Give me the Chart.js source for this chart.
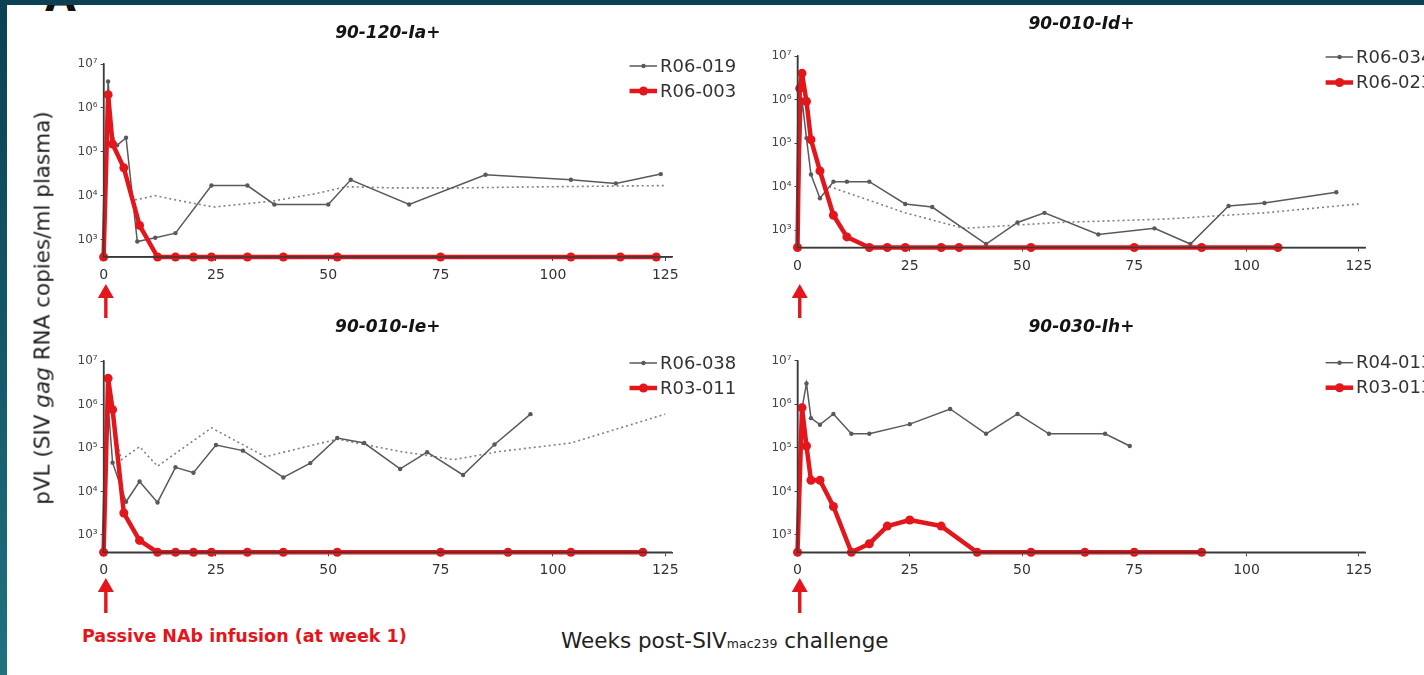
<!DOCTYPE html>
<html><head><meta charset="utf-8">
<script src="https://cdn.jsdelivr.net/npm/chart.js@4.4.1/dist/chart.umd.min.js"></script>
<style>
html,body{margin:0;padding:0;}
body{width:1424px;height:675px;overflow:hidden;position:relative;background:linear-gradient(180deg,#0b4152 0%,#145769 50%,#21717f 100%);font-family:'DejaVu Sans',sans-serif;}
#sheet{position:absolute;left:7px;top:5px;width:1417px;height:670px;background:#fff;overflow:hidden;}
canvas{position:absolute;}
.txt{position:absolute;white-space:nowrap;}
</style></head><body>
<div id="sheet"><div class="txt" style="left:38px;top:-28px;font:bold 40px/40px 'DejaVu Sans';color:#111;">A</div></div>
<canvas id="c0"></canvas><canvas id="c1"></canvas><canvas id="c2"></canvas><canvas id="c3"></canvas>
<div class="txt" id="ytitle" style="left:42px;top:308px;transform:translate(-50%,-50%) rotate(-90deg);font-size:21.5px;color:#222;">pVL (SIV <i>gag</i> RNA copies/ml plasma)</div>
<div class="txt" style="left:82px;top:636px;transform:translateY(-50%);font-weight:bold;font-size:17.5px;color:#e3161b;">Passive NAb infusion (at week 1)</div>
<div class="txt" style="left:561px;top:640px;transform:translateY(-50%);font-size:21.5px;color:#222;">Weeks post-SIV<span style="font-size:12.5px;">mac239</span> challenge</div>
<script>
// ---------- shared axis data ----------
const xTickValues = [0, 25, 50, 75, 100, 125];
const xTickLabels = ['0', '25', '50', '75', '100', '125'];
const yTickValues = [1e3, 1e4, 1e5, 1e6, 1e7];
const yTickLabels = ['10\u00b3', '10\u2074', '10\u2075', '10\u2076', '10\u2077'];
const panelTitles = ['90-120-Ia+', '90-010-Id+', '90-010-Ie+', '90-030-Ih+'];

// ---------- 90-120-Ia+ ----------
const iaCtrlName = 'R06-019';
const iaCtrlWeeks = [0, 1, 2, 3, 5, 7.5, 11.5, 16, 24, 32, 38, 50, 55, 68, 85, 104, 114, 124];
const iaCtrlVL = [400, 4e6, 2e5, 1.4e5, 2.1e5, 900, 1100, 1400, 1.7e4, 1.7e4, 6300, 6300, 2.3e4, 6300, 3e4, 2.3e4, 1.9e4, 3.1e4];
const iaNAbName = 'R06-003';
const iaNAbWeeks = [0, 1, 2, 4.5, 8, 12, 16, 20, 24, 32, 40, 52, 75, 104, 115, 123];
const iaNAbVL = [400, 2e6, 1.5e5, 4.3e4, 2100, 400, 400, 400, 400, 400, 400, 400, 400, 400, 400, 400];
const iaHistWeeks = [7, 11.5, 16, 24.5, 37.5, 47, 54, 65, 78, 100, 125];
const iaHistVL = [8000, 1e4, 8000, 5500, 7500, 1.1e4, 1.6e4, 1.5e4, 1.5e4, 1.6e4, 1.7e4];

// ---------- 90-010-Id+ ----------
const idCtrlName = 'R06-034';
const idCtrlWeeks = [0, 1, 2, 3, 5, 8, 11, 16, 24, 30, 42, 49, 55, 67, 79.5, 87.5, 96, 104, 120];
const idCtrlVL = [400, 1e6, 1.3e5, 1.9e4, 5400, 1.3e4, 1.3e4, 1.3e4, 4000, 3400, 480, 1500, 2500, 800, 1100, 480, 3600, 4200, 7400];
const idNAbName = 'R06-023';
const idNAbWeeks = [0, 0.5, 1, 2, 3, 5, 8, 11, 16, 20, 24, 32, 36, 52, 75, 90, 107];
const idNAbVL = [400, 1.8e6, 4e6, 9e5, 1.2e5, 2.3e4, 2200, 700, 400, 400, 400, 400, 400, 400, 400, 400, 400];
const idHistWeeks = [6, 24, 37, 58, 82, 104, 125];
const idHistVL = [1.1e4, 2500, 1100, 1500, 1800, 2500, 4000];

// ---------- 90-010-Ie+ ----------
const ieCtrlName = 'R06-038';
const ieCtrlWeeks = [0, 1, 2, 5, 8, 12, 16, 20, 25, 31, 40, 46, 52, 58, 66, 72, 80, 87, 95];
const ieCtrlVL = [400, 1e6, 4.6e4, 5800, 1.7e4, 5600, 3.6e4, 2.7e4, 1.17e5, 8.7e4, 2.1e4, 4.5e4, 1.7e5, 1.3e5, 3.3e4, 8e4, 2.4e4, 1.2e5, 6e5];
const ieNAbName = 'R03-011';
const ieNAbWeeks = [0, 1, 2, 4.5, 8, 12, 16, 20, 24, 32, 40, 52, 75, 90, 104, 120];
const ieNAbVL = [400, 4e6, 7.6e5, 3200, 750, 400, 400, 400, 400, 400, 400, 400, 400, 400, 400, 400];
const ieHistWeeks = [2.5, 4, 8, 12, 24, 36, 52, 66, 78, 88, 104, 125];
const ieHistVL = [2e5, 5.4e4, 1.07e5, 3.8e4, 2.9e5, 6.3e4, 1.6e5, 8.3e4, 5.4e4, 8.3e4, 1.3e5, 6e5];

// ---------- 90-030-Ih+ ----------
const ihCtrlName = 'R04-013';
const ihCtrlWeeks = [0, 1, 2, 3, 5, 8, 12, 16, 25, 34, 42, 49, 56, 68.5, 74];
const ihCtrlVL = [400, 8e5, 3e6, 4.8e5, 3.4e5, 6e5, 2.1e5, 2.1e5, 3.5e5, 7.8e5, 2.1e5, 6e5, 2.1e5, 2.1e5, 1.1e5];
const ihNAbName = 'R03-013';
const ihNAbWeeks = [0, 1, 2, 3, 5, 8, 12, 16, 20, 25, 32, 40, 52, 64, 75, 90];
const ihNAbVL = [400, 8.3e5, 1.1e5, 1.8e4, 1.8e4, 4500, 400, 630, 1600, 2200, 1600, 400, 400, 400, 400, 400];

const infusionWeek = 0.5;

// ---------- styles / layout (not data) ----------
const RED = '#e3161b', GRAY = '#595959', DOT = '#808080';
const FONT = "'DejaVu Sans', sans-serif";
function pts(w, v) { return w.map((x, i) => ({ x: x, y: v[i] })); }
function ctrlDs(name, w, v) {
  return { label: name, data: pts(w, v), borderColor: GRAY, backgroundColor: GRAY, borderWidth: 1.5,
    pointRadius: 2.2, pointBackgroundColor: GRAY, pointBorderWidth: 0, order: 1, clip: false };
}
function nabDs(name, w, v) {
  return { label: name, data: pts(w, v), borderColor: RED, backgroundColor: RED, borderWidth: 4.5,
    pointRadius: 4.5, pointBackgroundColor: RED, pointBorderWidth: 0, order: 0, clip: false, borderJoinStyle: 'round' };
}
function histDs(w, v) {
  return { label: '', data: pts(w, v), borderColor: DOT, borderWidth: 1.6, borderDash: [2, 3],
    pointRadius: 0, order: 2, clip: false, hideLegend: true };
}

const panels = [
  { id: 'c0', title: panelTitles[0], canvas: { x: 40, y: 10, w: 710, h: 315 }, area: { l: 103.6, t: 64, r: 672, b: 257 }, titleY: 34,
    legend: { x: 629.5, y: 66, dy: 25 }, arrow: { tip: 284, base: 318 },
    datasets: [nabDs(iaNAbName, iaNAbWeeks, iaNAbVL), ctrlDs(iaCtrlName, iaCtrlWeeks, iaCtrlVL), histDs(iaHistWeeks, iaHistVL)] },
  { id: 'c1', title: panelTitles[1], canvas: { x: 735, y: 4, w: 689, h: 321 }, area: { l: 797.5, t: 56, r: 1365.5, b: 247.5 }, titleY: 25,
    legend: { x: 1325.6, y: 57, dy: 25.5 }, arrow: { tip: 284, base: 318 },
    datasets: [nabDs(idNAbName, idNAbWeeks, idNAbVL), ctrlDs(idCtrlName, idCtrlWeeks, idCtrlVL), histDs(idHistWeeks, idHistVL)] },
  { id: 'c2', title: panelTitles[2], canvas: { x: 40, y: 312, w: 710, h: 310 }, area: { l: 103.6, t: 361, r: 672, b: 552.3 }, titleY: 328,
    legend: { x: 629.5, y: 363, dy: 25 }, arrow: { tip: 578, base: 613 },
    datasets: [nabDs(ieNAbName, ieNAbWeeks, ieNAbVL), ctrlDs(ieCtrlName, ieCtrlWeeks, ieCtrlVL), histDs(ieHistWeeks, ieHistVL)] },
  { id: 'c3', title: panelTitles[3], canvas: { x: 735, y: 312, w: 689, h: 310 }, area: { l: 797.5, t: 360.7, r: 1365.5, b: 552.3 }, titleY: 328,
    legend: { x: 1325.6, y: 362.7, dy: 25 }, arrow: { tip: 578, base: 613 },
    datasets: [nabDs(ihNAbName, ihNAbWeeks, ihNAbVL), ctrlDs(ihCtrlName, ihCtrlWeeks, ihCtrlVL)] }
];

const overlay = {
  id: 'overlay',
  afterDatasetsDraw(chart) {
    const { ctx, chartArea: a } = chart;
    ctx.save();
    ctx.strokeStyle = '#3a3a3a'; ctx.lineWidth = 1.5;
    ctx.beginPath(); ctx.moveTo(a.left, a.top); ctx.lineTo(a.left, a.bottom); ctx.lineTo(a.right, a.bottom); ctx.stroke();
    ctx.restore();
  },
  afterDraw(chart, args, o) {
    const ctx = chart.ctx;
    ctx.save();
    const order = [1, 0];
    let row = 0;
    const lx = o.legend.x - o.cx;
    order.forEach((di) => {
      const ds = chart.data.datasets[di];
      if (!ds || ds.hideLegend) return;
      const y = o.legend.y - o.cy + row * o.legend.dy;
      ctx.strokeStyle = ds.borderColor; ctx.lineWidth = ds.borderWidth; ctx.setLineDash([]);
      ctx.beginPath(); ctx.moveTo(lx, y); ctx.lineTo(lx + 27.5, y); ctx.stroke();
      ctx.fillStyle = ds.pointBackgroundColor;
      ctx.beginPath(); ctx.arc(lx + 14, y, ds.pointRadius, 0, Math.PI * 2); ctx.fill();
      ctx.fillStyle = '#333'; ctx.font = '18px ' + FONT; ctx.textBaseline = 'middle'; ctx.textAlign = 'left';
      ctx.fillText(ds.label, lx + 30.5, y + 1);
      row++;
    });
    const ax = chart.scales.x.getPixelForValue(o.arrowWeek);
    const tip = o.arrow.tip - o.cy, base = o.arrow.base - o.cy;
    ctx.fillStyle = RED;
    ctx.beginPath();
    ctx.moveTo(ax, tip); ctx.lineTo(ax + 8, tip + 14); ctx.lineTo(ax + 1.7, tip + 14); ctx.lineTo(ax + 1.7, base);
    ctx.lineTo(ax - 1.7, base); ctx.lineTo(ax - 1.7, tip + 14); ctx.lineTo(ax - 8, tip + 14); ctx.closePath(); ctx.fill();
    ctx.restore();
  }
};

panels.forEach((p) => {
  const cv = document.getElementById(p.id);
  cv.width = p.canvas.w; cv.height = p.canvas.h;
  cv.style.left = p.canvas.x + 'px'; cv.style.top = p.canvas.y + 'px';
  const xH = 30;
  const yW = p.area.l - p.canvas.x;
  const padR = p.canvas.x + p.canvas.w - p.area.r;
  const padB = p.canvas.y + p.canvas.h - p.area.b - xH;
  const tp = (p.titleY - p.canvas.y) - 10.2;
  const tb = (p.area.t - p.canvas.y) - tp - 20.4;
  new Chart(cv, {
    type: 'line',
    data: { datasets: p.datasets },
    plugins: [overlay],
    options: {
      responsive: false, animation: false, devicePixelRatio: 1,
      layout: { padding: { left: 0, right: padR, top: 0, bottom: padB } },
      plugins: {
        legend: { display: false }, tooltip: { enabled: false },
        title: { display: true, text: p.title, fullSize: false, color: '#141414',
          font: { family: FONT, size: 17, weight: 'bold', style: 'italic', lineHeight: 1.2 },
          padding: { top: tp, bottom: tb } },
        overlay: { legend: p.legend, arrow: p.arrow, arrowWeek: infusionWeek, cx: p.canvas.x, cy: p.canvas.y }
      },
      scales: {
        x: { type: 'linear', min: 0, max: 126.5,
          afterBuildTicks: (s) => { s.ticks = xTickValues.map((v) => ({ value: v })); },
          afterFit: (s) => { s.height = xH; },
          ticks: { autoSkip: false, maxRotation: 0, padding: 6, color: '#333', font: { family: FONT, size: 14 },
            callback: (v, i) => xTickLabels[i] },
          grid: { drawOnChartArea: false, drawTicks: true, tickLength: 4, color: '#444', lineWidth: 1 },
          border: { display: true, color: '#3a3a3a', width: 1.5 } },
        y: { type: 'logarithmic', min: 400, max: 1e7,
          afterBuildTicks: (s) => { s.ticks = yTickValues.map((v) => ({ value: v })); },
          afterFit: (s) => { s.width = yW; },
          ticks: { autoSkip: false, padding: 3, color: '#444', font: { family: FONT, size: 12 },
            callback: (v, i) => yTickLabels[i] },
          grid: { drawOnChartArea: false, drawTicks: true, tickLength: 3, color: '#444', lineWidth: 1 },
          border: { display: true, color: '#3a3a3a', width: 1.5 } }
      }
    }
  });
});
</script>
</body></html>
